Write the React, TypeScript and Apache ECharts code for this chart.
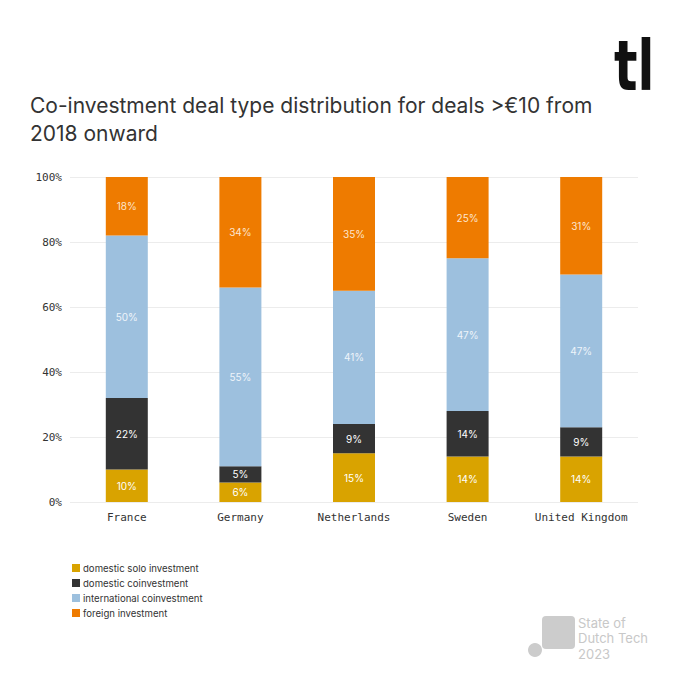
import React, { useEffect, useRef } from "react";
import * as echarts from "echarts";

const categories = ["France", "Germany", "Netherlands", "Sweden", "United Kingdom"];
const seriesNames = [
  "domestic solo investment",
  "domestic coinvestment",
  "international coinvestment",
  "foreign investment",
];
const domesticSolo = [10, 6, 15, 14, 14];
const domesticCo = [22, 5, 9, 14, 9];
const internationalCo = [50, 55, 41, 47, 47];
const foreign = [18, 34, 35, 25, 31];
const yTicks = [0, 20, 40, 60, 80, 100];

const colors = ["#d9a300", "#333333", "#9dc0de", "#ee7b00"];
const labelColors = ["#ffffff", "#ffffff", "#eef4fa", "#fde6cf"];

export default function App() {
  const ref = useRef<HTMLDivElement>(null);
  useEffect(() => {
    if (!ref.current) return;
    const chart = echarts.init(ref.current, null, { renderer: "svg" });
    const values = [domesticSolo, domesticCo, internationalCo, foreign];
    chart.setOption({
      animation: false,
      backgroundColor: "#ffffff",
      title: {
        text: "Co-investment deal type distribution for deals >€10 from\n2018 onward",
        left: 25,
        top: 86,
        textStyle: {
          fontFamily: "Inter",
          fontSize: 21,
          fontWeight: "normal",
          color: "#333333",
          lineHeight: 28,
        },
      },
      legend: {
        orient: "vertical",
        left: 67,
        top: 558,
        itemWidth: 8,
        itemHeight: 8,
        itemGap: 5,
        icon: "rect",
        data: seriesNames,
        textStyle: { fontFamily: "Inter", fontSize: 9.6, color: "#333333", padding: [0, 0, 0, -2] },
      },
      grid: { left: 70, right: 42, top: 177, bottom: 178, containLabel: false },
      xAxis: {
        type: "category",
        data: categories,
        axisLine: { show: false },
        axisTick: { show: false },
        axisLabel: {
          interval: 0,
          fontFamily: "DejaVu Sans Mono",
          fontSize: 11,
          color: "#333333",
          margin: 10,
        },
      },
      yAxis: {
        type: "value",
        min: 0,
        max: 100,
        interval: 20,
        axisLine: { show: false },
        axisTick: { show: false },
        splitLine: { lineStyle: { color: "#ececec", width: 1 } },
        axisLabel: {
          fontFamily: "DejaVu Sans Mono",
          fontSize: 11,
          color: "#333333",
          margin: 8,
          formatter: (v: number) => (yTicks.includes(v) ? v + "%" : ""),
        },
      },
      series: seriesNames.map((name, i) => ({
        name,
        type: "bar",
        stack: "total",
        barWidth: 42,
        data: values[i],
        itemStyle: { color: colors[i] },
        label: {
          show: true,
          position: "inside",
          formatter: (p: any) => p.value + "%",
          fontFamily: "Inter",
          fontSize: 10,
          color: labelColors[i],
        },
      })),
      graphic: [
        {
          type: "text",
          x: 614,
          y: 31,
          scaleX: 0.78,
          scaleY: 1,
          style: {
            text: "tl",
            fontFamily: "DejaVu Sans Condensed",
            fontWeight: "bold",
            fontSize: 70,
            fill: "#111111",
          },
        },
        {
          type: "rect",
          shape: { x: 542, y: 616, width: 33, height: 33, r: 4 },
          style: { fill: "#cccccc" },
        },
        {
          type: "circle",
          shape: { cx: 535, cy: 650, r: 7 },
          style: { fill: "#cccccc" },
        },
        {
          type: "text",
          left: 578,
          top: 615,
          style: {
            text: "State of\nDutch Tech\n2023",
            fontFamily: "Inter",
            fontSize: 13,
            lineHeight: 15.6,
            fill: "#c8c8c8",
          },
        },
      ],
    });
    return () => chart.dispose();
  }, []);
  return (
    <div
      ref={ref}
      style={{ position: "fixed", left: 0, top: 0, width: 680, height: 680 }}
    />
  );
}
